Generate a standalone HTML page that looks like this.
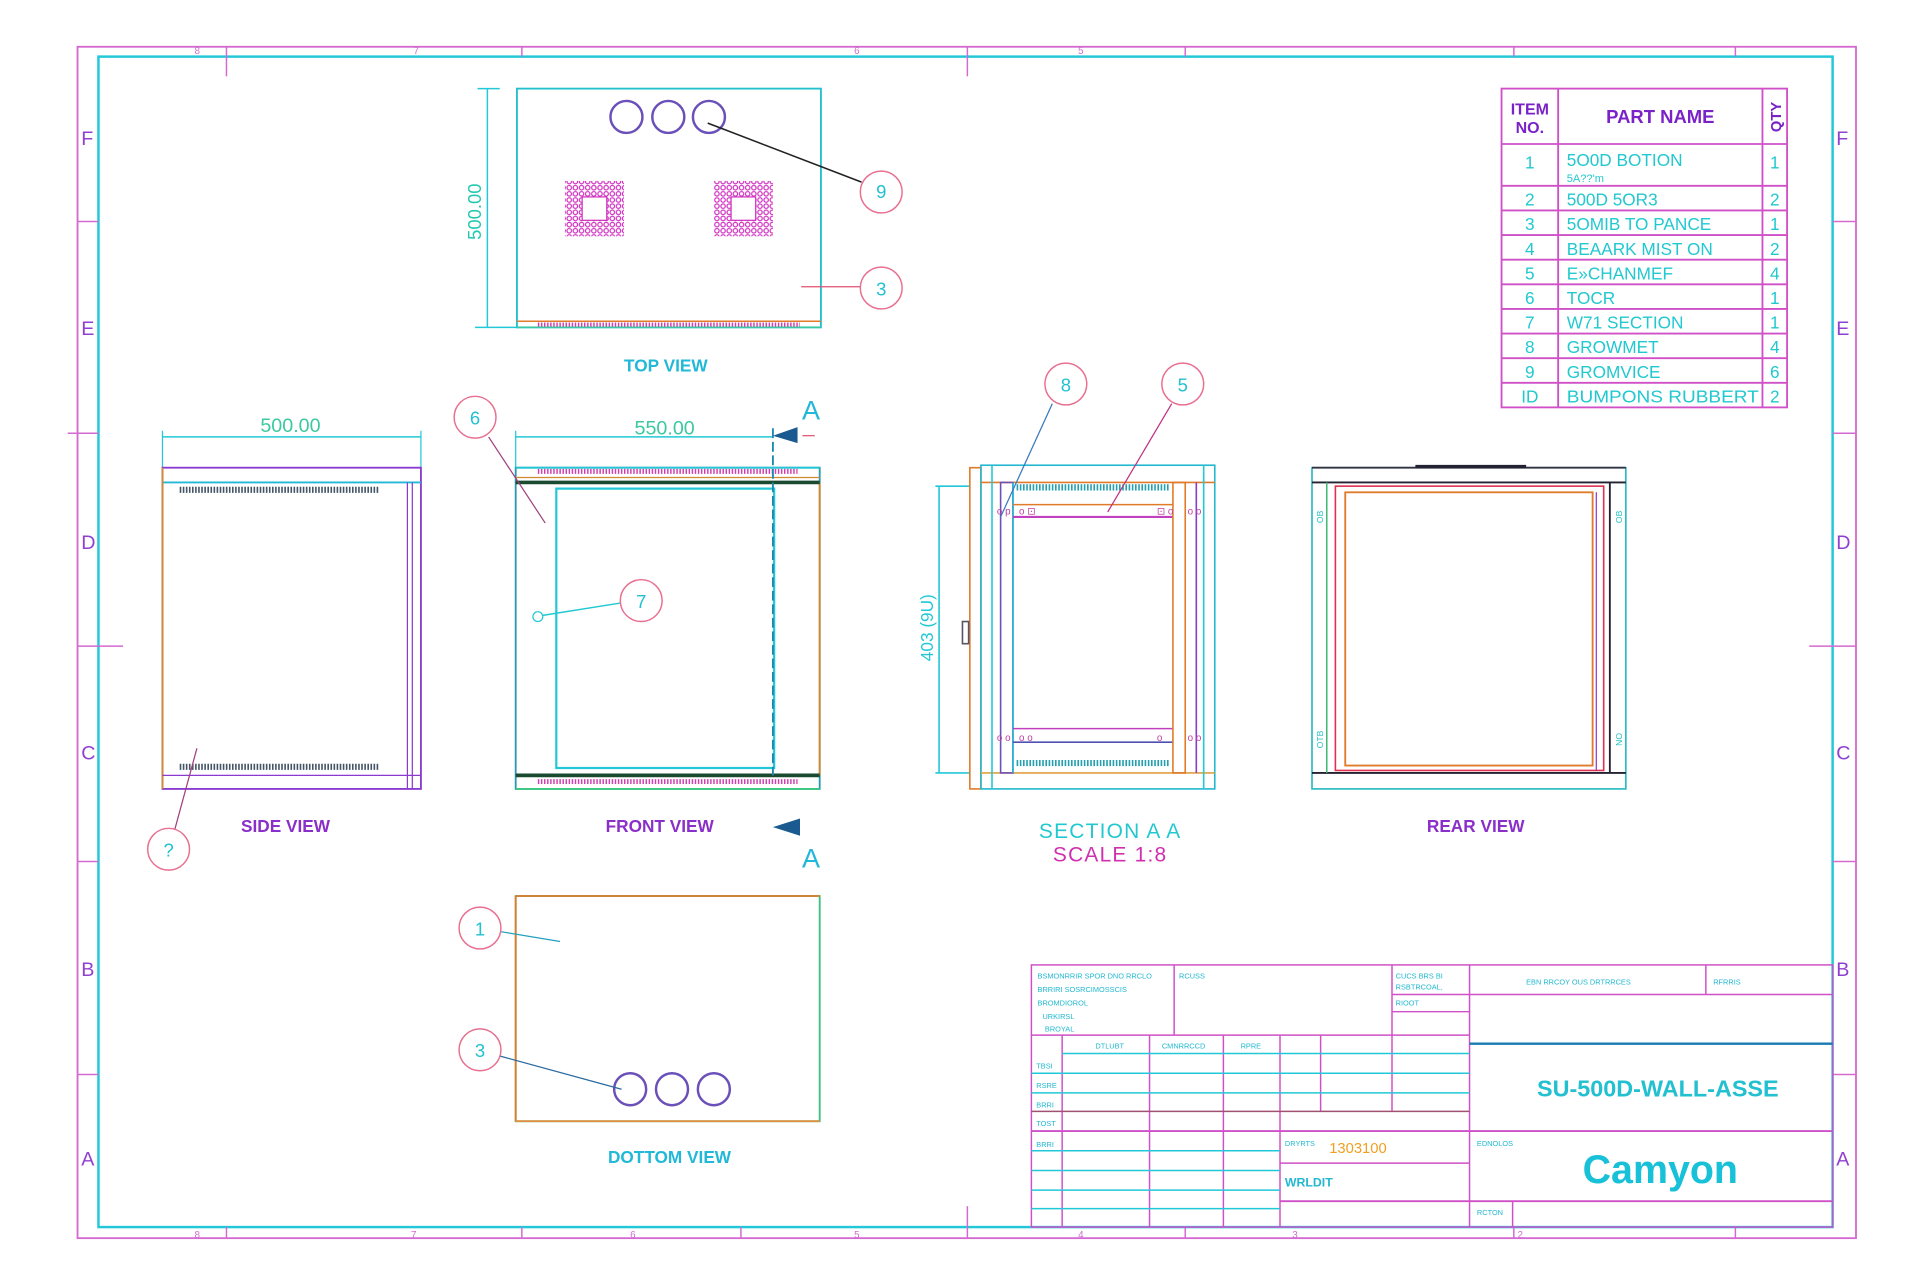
<!DOCTYPE html>
<html><head><meta charset="utf-8"><style>
html,body{margin:0;padding:0;background:#fff;}
svg{display:block;}
text{font-family:"Liberation Sans",sans-serif;}
</style></head><body>
<svg width="1920" height="1280" viewBox="0 0 1560 1040" xmlns="http://www.w3.org/2000/svg">
<defs>
<pattern id="dots" width="5" height="5" patternUnits="userSpaceOnUse"><circle cx="2.5" cy="2.5" r="1.8" fill="none" stroke="#d030c0" stroke-width="1"/></pattern>
</defs>
<rect width="1560" height="1040" fill="#fff"/>
<!-- borders -->
<rect x="63" y="38" width="1445" height="968" fill="none" stroke="#d46ad0" stroke-width="1.5"/>
<rect x="80" y="46" width="1409" height="951" fill="none" stroke="#22c8d8" stroke-width="2"/>
<g stroke="#d46ad0" stroke-width="1.2">
<line x1="184" y1="38" x2="184" y2="62"/><line x1="424" y1="38" x2="424" y2="46"/><line x1="786" y1="38" x2="786" y2="62"/><line x1="963" y1="38" x2="963" y2="46"/><line x1="1410" y1="38" x2="1410" y2="46"/><line x1="1230" y1="38" x2="1230" y2="46"/>
<line x1="184" y1="997" x2="184" y2="1006"/><line x1="424" y1="997" x2="424" y2="1006"/><line x1="786" y1="980" x2="786" y2="1006"/><line x1="963" y1="997" x2="963" y2="1006"/><line x1="1410" y1="997" x2="1410" y2="1006"/><line x1="1230" y1="997" x2="1230" y2="1006"/><line x1="602" y1="997" x2="602" y2="1006"/>
<line x1="63" y1="180" x2="80" y2="180"/><line x1="55" y1="352" x2="80" y2="352"/><line x1="63" y1="525" x2="100" y2="525"/><line x1="63" y1="700" x2="80" y2="700"/><line x1="63" y1="873" x2="80" y2="873"/>
<line x1="1489" y1="180" x2="1508" y2="180"/><line x1="1489" y1="352" x2="1508" y2="352"/><line x1="1470" y1="525" x2="1508" y2="525"/><line x1="1489" y1="700" x2="1508" y2="700"/><line x1="1489" y1="873" x2="1508" y2="873"/>
</g>
<g fill="#9040d0" font-size="16">
<text x="66" y="118">F</text><text x="66" y="272">E</text><text x="66" y="446">D</text><text x="66" y="617">C</text><text x="66" y="793">B</text><text x="66" y="947">A</text>
<text x="1492" y="118">F</text><text x="1492" y="272">E</text><text x="1492" y="446">D</text><text x="1492" y="617">C</text><text x="1492" y="793">B</text><text x="1492" y="947">A</text>
</g>
<g fill="#d46ad0" font-size="8"><text x="158" y="44">8</text><text x="336" y="44">7</text><text x="694" y="44">6</text><text x="876" y="44">5</text><text x="158" y="1006">8</text><text x="334" y="1006">7</text><text x="512" y="1006">6</text><text x="694" y="1006">5</text><text x="876" y="1006">4</text><text x="1050" y="1006">3</text><text x="1233" y="1006">2</text></g>

<!-- parts table -->
<g stroke="#d050c8" stroke-width="1.5" fill="none">
<rect x="1220" y="72" width="232" height="259"/>
<line x1="1266" y1="72" x2="1266" y2="331"/><line x1="1432" y1="72" x2="1432" y2="331"/>
<line x1="1220" y1="117" x2="1452" y2="117"/><line x1="1220" y1="151" x2="1452" y2="151"/><line x1="1220" y1="171" x2="1452" y2="171"/><line x1="1220" y1="191" x2="1452" y2="191"/><line x1="1220" y1="211" x2="1452" y2="211"/><line x1="1220" y1="231" x2="1452" y2="231"/><line x1="1220" y1="251" x2="1452" y2="251"/><line x1="1220" y1="271" x2="1452" y2="271"/><line x1="1220" y1="291" x2="1452" y2="291"/><line x1="1220" y1="311" x2="1452" y2="311"/>
</g>
<g fill="#7a22c8" font-weight="bold">
<text x="1243" y="93" font-size="13" text-anchor="middle">ITEM</text><text x="1243" y="108" font-size="13" text-anchor="middle">NO.</text>
<text x="1349" y="100" font-size="15" text-anchor="middle">PART NAME</text>
<text transform="translate(1447,95) rotate(-90)" font-size="12" text-anchor="middle">QTY</text>
</g>
<g fill="#22c8d0" font-size="14">
<g text-anchor="middle"><text x="1243" y="137">1</text><text x="1243" y="167">2</text><text x="1243" y="187">3</text><text x="1243" y="207">4</text><text x="1243" y="227">5</text><text x="1243" y="247">6</text><text x="1243" y="267">7</text><text x="1243" y="287">8</text><text x="1243" y="307">9</text><text x="1243" y="327">ID</text>
<text x="1442" y="137">1</text><text x="1442" y="167">2</text><text x="1442" y="187">1</text><text x="1442" y="207">2</text><text x="1442" y="227">4</text><text x="1442" y="247">1</text><text x="1442" y="267">1</text><text x="1442" y="287">4</text><text x="1442" y="307">6</text><text x="1442" y="327">2</text></g>
<text x="1273" y="135">5O0D BOTION</text><text x="1273" y="148" font-size="9">5A??'m</text>
<text x="1273" y="167">500D 5OR3</text><text x="1273" y="187">5OMIB TO PANCE</text><text x="1273" y="207">BEAARK MIST ON</text><text x="1273" y="227">E»CHANMEF</text><text x="1273" y="247">TOCR</text><text x="1273" y="267">W71 SECTION</text><text x="1273" y="287">GROWMET</text><text x="1273" y="307">GROMVICE</text><text x="1273" y="327" textLength="156" lengthAdjust="spacingAndGlyphs">BUMPONS RUBBERT</text>
</g>

<!-- TOP VIEW -->
<rect x="420" y="72" width="247" height="194" fill="none" stroke="#22c0cc" stroke-width="1.5"/>
<line x1="420" y1="261" x2="667" y2="261" stroke="#e07b2a" stroke-width="1.2"/>
<line x1="437" y1="264" x2="650" y2="264" stroke="#d040b0" stroke-width="4" stroke-dasharray="1.2 1.3"/>
<line x1="420" y1="266" x2="667" y2="266" stroke="#3cc8a0" stroke-width="1.2"/>
<g fill="none" stroke="#6a50b8" stroke-width="2"><circle cx="509" cy="95" r="13"/><circle cx="543" cy="95" r="13"/><circle cx="576" cy="95" r="13"/></g>
<g>
<rect x="459" y="147" width="48" height="45" fill="url(#dots)"/><rect x="473" y="160" width="20" height="19" fill="#fff" stroke="#d030c0"/>
<rect x="580" y="147" width="48" height="45" fill="url(#dots)"/><rect x="594" y="160" width="20" height="19" fill="#fff" stroke="#d030c0"/>
</g>
<g stroke="#22c8d8" stroke-width="1.2"><line x1="396" y1="72" x2="396" y2="266"/><line x1="388" y1="72" x2="406" y2="72"/><line x1="386" y1="266" x2="420" y2="266"/></g>
<text transform="translate(391,172) rotate(-90)" fill="#22c8b0" font-size="15" text-anchor="middle">500.00</text>
<line x1="575" y1="100" x2="700" y2="148" stroke="#222" stroke-width="1.3"/>
<line x1="651" y1="233" x2="699" y2="233" stroke="#e05070" stroke-width="1"/>
<g fill="#fff" stroke="#e87090" stroke-width="1.2"><circle cx="716" cy="156" r="17"/><circle cx="716" cy="234" r="17"/></g>
<g fill="#22c0d0" font-size="15" text-anchor="middle"><text x="716" y="161">9</text><text x="716" y="240">3</text></g>
<text x="541" y="302" fill="#22b8d8" font-size="14" font-weight="bold" text-anchor="middle">TOP VIEW</text>

<!-- SIDE VIEW -->
<line x1="132" y1="355" x2="342" y2="355" stroke="#22c8d8" stroke-width="1.2"/>
<line x1="132" y1="350" x2="132" y2="380" stroke="#22c8d8"/><line x1="342" y1="350" x2="342" y2="380" stroke="#22c8d8"/>
<text x="236" y="351" fill="#3cc8a0" font-size="16" text-anchor="middle">500.00</text>
<rect x="132" y="380" width="210" height="261" fill="none" stroke="#8a3ad0" stroke-width="1.5"/>
<line x1="132" y1="392" x2="342" y2="392" stroke="#22b8d8" stroke-width="1.5"/>
<line x1="132" y1="380" x2="132" y2="641" stroke="#d08a30" stroke-width="1.5"/>
<line x1="132" y1="630" x2="342" y2="630" stroke="#8a3ad0" stroke-width="1"/>
<line x1="331" y1="392" x2="331" y2="641" stroke="#8a3ad0"/><line x1="335" y1="392" x2="335" y2="641" stroke="#8a3ad0"/>
<line x1="146" y1="398" x2="308" y2="398" stroke="#445566" stroke-width="5" stroke-dasharray="1.3 1.2"/>
<line x1="146" y1="623" x2="308" y2="623" stroke="#445566" stroke-width="5" stroke-dasharray="1.3 1.2"/>
<line x1="160" y1="608" x2="142" y2="674" stroke="#a04080" stroke-width="1"/>
<circle cx="137" cy="690" r="17" fill="#fff" stroke="#e87090" stroke-width="1.2"/><text x="137" y="696" fill="#22c0d0" font-size="15" text-anchor="middle">?</text>
<text x="232" y="676" fill="#8a2fc9" font-size="14" font-weight="bold" text-anchor="middle">SIDE VIEW</text>

<!-- FRONT VIEW -->
<line x1="419" y1="355" x2="628" y2="355" stroke="#22c8d8" stroke-width="1.2"/>
<line x1="419" y1="350" x2="419" y2="380" stroke="#22c8d8"/>
<text x="540" y="353" fill="#3cc8a0" font-size="16" text-anchor="middle">550.00</text>
<rect x="419" y="380" width="247" height="261" fill="none" stroke="#2a9ab0" stroke-width="1.5"/>
<line x1="666" y1="392" x2="666" y2="630" stroke="#d08a30" stroke-width="1.5"/>
<line x1="419" y1="380" x2="666" y2="380" stroke="#22c8d8" stroke-width="1.5"/>
<line x1="419" y1="388" x2="666" y2="388" stroke="#d08a30" stroke-width="1"/>
<line x1="437" y1="383" x2="648" y2="383" stroke="#d040b0" stroke-width="4" stroke-dasharray="1.2 1.3"/>
<line x1="419" y1="392" x2="666" y2="392" stroke="#1a4a30" stroke-width="3"/>
<line x1="419" y1="630" x2="666" y2="630" stroke="#1a4a30" stroke-width="3"/>
<line x1="437" y1="635" x2="648" y2="635" stroke="#d040b0" stroke-width="4" stroke-dasharray="1.2 1.3"/>
<line x1="419" y1="641" x2="666" y2="641" stroke="#3cc880" stroke-width="1.5"/>
<rect x="452" y="397" width="177" height="227" fill="none" stroke="#22c8d8" stroke-width="1.8"/>
<line x1="628" y1="348" x2="628" y2="630" stroke="#1a8ab0" stroke-width="1.5" stroke-dasharray="8 3"/>
<polygon points="628,354 648,347 648,360" fill="#1a5a90"/><line x1="652" y1="354" x2="662" y2="354" stroke="#e05070"/>
<polygon points="628,672 650,665 650,679" fill="#1a5a90"/>
<text x="659" y="341" fill="#22b8d8" font-size="22" text-anchor="middle">A</text>
<text x="659" y="705" fill="#22b8d8" font-size="22" text-anchor="middle">A</text>
<line x1="397" y1="355" x2="443" y2="425" stroke="#a04080" stroke-width="1"/>
<circle cx="386" cy="339" r="17" fill="#fff" stroke="#e87090" stroke-width="1.2"/><text x="386" y="345" fill="#22c0d0" font-size="15" text-anchor="middle">6</text>
<circle cx="437" cy="501" r="4" fill="none" stroke="#22c8d0"/><line x1="441" y1="500" x2="504" y2="490" stroke="#22c8d0" stroke-width="1.2"/>
<circle cx="521" cy="488" r="17" fill="#fff" stroke="#e87090" stroke-width="1.2"/><text x="521" y="494" fill="#22c0d0" font-size="15" text-anchor="middle">7</text>
<text x="536" y="676" fill="#8a2fc9" font-size="14" font-weight="bold" text-anchor="middle">FRONT VIEW</text>

<!-- SECTION A-A -->
<g fill="none" stroke-width="1.3">
<line x1="763" y1="395" x2="763" y2="628" stroke="#22c8d8"/><line x1="760" y1="395" x2="788" y2="395" stroke="#22c8d8"/><line x1="760" y1="628" x2="788" y2="628" stroke="#22c8d8"/>
<rect x="788" y="380" width="9" height="261" stroke="#e07b2a"/>
<rect x="797" y="378" width="190" height="263" stroke="#22b8d0"/>
<line x1="797" y1="392" x2="987" y2="392" stroke="#e07b2a"/>
<line x1="797" y1="628" x2="987" y2="628" stroke="#e0a040"/>
<line x1="806" y1="378" x2="806" y2="641" stroke="#22c8d8"/>
<rect x="813" y="392" width="10" height="236" stroke="#6a50b8"/>
<line x1="823" y1="392" x2="823" y2="628" stroke="#22b8d8"/>
<line x1="823" y1="410" x2="953" y2="410" stroke="#e07b2a"/><line x1="823" y1="420" x2="953" y2="420" stroke="#c040c0" stroke-width="1.8"/>
<line x1="823" y1="592" x2="953" y2="592" stroke="#c040c0"/><line x1="823" y1="603" x2="953" y2="603" stroke="#5050b0"/>
<rect x="953" y="392" width="10" height="236" stroke="#e07b2a"/>
<line x1="972" y1="392" x2="972" y2="628" stroke="#8a3ad0"/><line x1="978" y1="378" x2="978" y2="641" stroke="#22c8d8"/>
<rect x="782" y="505" width="5" height="18" stroke="#556"/>
</g>
<line x1="826" y1="396" x2="950" y2="396" stroke="#22a0b0" stroke-width="5" stroke-dasharray="1.3 1.3"/>
<line x1="826" y1="620" x2="950" y2="620" stroke="#22a0b0" stroke-width="5" stroke-dasharray="1.3 1.3"/>
<g fill="#c040a0" font-size="8"><text x="810" y="418">o p</text><text x="828" y="418">o ⊡</text><text x="940" y="418">⊡ o</text><text x="965" y="418">o o</text><text x="810" y="602">o o</text><text x="828" y="602">o o</text><text x="940" y="602">o</text><text x="965" y="602">o o</text></g>
<text transform="translate(758,510) rotate(-90)" fill="#22c8d8" font-size="14" text-anchor="middle">403 (9U)</text>
<line x1="855" y1="328" x2="813" y2="420" stroke="#3a7ac0" stroke-width="1"/>
<line x1="952" y1="328" x2="900" y2="416" stroke="#c03080" stroke-width="1"/>
<g fill="#fff" stroke="#e87090" stroke-width="1.2"><circle cx="866" cy="312" r="17"/><circle cx="961" cy="312" r="17"/></g>
<g fill="#22c0d0" font-size="15" text-anchor="middle"><text x="866" y="318">8</text><text x="961" y="318">5</text></g>
<text x="902" y="681" fill="#22c8d0" font-size="17" text-anchor="middle" letter-spacing="1">SECTION A A</text>
<text x="902" y="700" fill="#d030b0" font-size="17" text-anchor="middle" letter-spacing="1">SCALE 1:8</text>

<!-- REAR VIEW -->
<g fill="none">
<rect x="1066" y="380" width="255" height="261" stroke="#22b8c0" stroke-width="1.3"/>
<line x1="1066" y1="380" x2="1321" y2="380" stroke="#334" stroke-width="1.5"/>
<line x1="1150" y1="379" x2="1240" y2="379" stroke="#223" stroke-width="2.5"/>
<line x1="1066" y1="392" x2="1321" y2="392" stroke="#223" stroke-width="1.5"/>
<line x1="1066" y1="628" x2="1321" y2="628" stroke="#223" stroke-width="1.5"/>
<line x1="1078" y1="392" x2="1078" y2="628" stroke="#3cb870" stroke-width="1.2"/>
<line x1="1308" y1="392" x2="1308" y2="628" stroke="#223" stroke-width="1.5"/>
<rect x="1085" y="395" width="218" height="231" stroke="#e03050" stroke-width="1.3"/>
<rect x="1093" y="400" width="201" height="222" stroke="#e07b2a" stroke-width="1.5"/>
<line x1="1297" y1="400" x2="1297" y2="626" stroke="#8a3ad0"/>
</g>
<g fill="#22c0c0" font-size="7"><text transform="translate(1075,425) rotate(-90)">OB</text><text transform="translate(1075,608) rotate(-90)">OTB</text><text transform="translate(1318,425) rotate(-90)">OB</text><text transform="translate(1318,606) rotate(-90)">NO</text></g>
<text x="1199" y="676" fill="#8a2fc9" font-size="14" font-weight="bold" text-anchor="middle">REAR VIEW</text>

<!-- BOTTOM VIEW -->
<rect x="419" y="728" width="247" height="183" fill="none" stroke="#3cc080" stroke-width="1.5"/>
<line x1="419" y1="728" x2="666" y2="728" stroke="#e07b2a" stroke-width="1.5"/><line x1="419" y1="728" x2="419" y2="911" stroke="#e07b2a" stroke-width="1.5"/><line x1="419" y1="911" x2="666" y2="911" stroke="#e09040" stroke-width="1.5"/>
<g fill="none" stroke="#6a50b8" stroke-width="2"><circle cx="512" cy="885" r="13"/><circle cx="546" cy="885" r="13"/><circle cx="580" cy="885" r="13"/></g>
<line x1="407" y1="757" x2="455" y2="765" stroke="#22a0c0" stroke-width="1"/>
<line x1="406" y1="858" x2="505" y2="885" stroke="#2a6aa0" stroke-width="1"/>
<g fill="#fff" stroke="#e87090" stroke-width="1.2"><circle cx="390" cy="754" r="17"/><circle cx="390" cy="853" r="17"/></g>
<g fill="#22c0d0" font-size="15" text-anchor="middle"><text x="390" y="760">1</text><text x="390" y="859">3</text></g>
<text x="544" y="945" fill="#22b8d8" font-size="14" font-weight="bold" text-anchor="middle">DOTTOM VIEW</text>

<!-- TITLE BLOCK -->
<g fill="none" stroke-width="1.2">
<rect x="838" y="784" width="651" height="213" stroke="#d050c8"/>
<line x1="954" y1="784" x2="954" y2="841" stroke="#d050c8"/>
<line x1="1131" y1="784" x2="1131" y2="903" stroke="#d050c8"/>
<line x1="1194" y1="784" x2="1194" y2="997" stroke="#d050c8"/>
<line x1="1386" y1="784" x2="1386" y2="808" stroke="#d050c8"/>
<line x1="1131" y1="808" x2="1489" y2="808" stroke="#d050c8"/>
<line x1="1131" y1="822" x2="1194" y2="822" stroke="#d050c8"/>
<line x1="838" y1="841" x2="1194" y2="841" stroke="#d050c8"/>
<line x1="1194" y1="848" x2="1489" y2="848" stroke="#1a7ab0" stroke-width="2"/>
<line x1="863" y1="841" x2="863" y2="997" stroke="#d050c8"/>
<line x1="934" y1="841" x2="934" y2="997" stroke="#d050c8"/>
<line x1="994" y1="841" x2="994" y2="997" stroke="#d050c8"/>
<line x1="1040" y1="841" x2="1040" y2="997" stroke="#d050c8"/>
<line x1="1073" y1="841" x2="1073" y2="903" stroke="#d050c8"/>
<line x1="863" y1="856" x2="1194" y2="856" stroke="#22c8d8"/>
<line x1="838" y1="872" x2="1194" y2="872" stroke="#22c8d8"/>
<line x1="838" y1="888" x2="1194" y2="888" stroke="#22c8d8"/>
<line x1="838" y1="903" x2="1194" y2="903" stroke="#a05070"/>
<line x1="838" y1="919" x2="1489" y2="919" stroke="#d050c8" stroke-width="1.6"/>
<line x1="838" y1="935" x2="1040" y2="935" stroke="#22c8d8"/>
<line x1="1040" y1="945" x2="1194" y2="945" stroke="#d050c8"/>
<line x1="838" y1="951" x2="1040" y2="951" stroke="#22c8d8"/>
<line x1="838" y1="967" x2="1040" y2="967" stroke="#22c8d8"/>
<line x1="1040" y1="976" x2="1489" y2="976" stroke="#d050c8" stroke-width="1.5"/>
<line x1="838" y1="982" x2="1040" y2="982" stroke="#22c8d8"/>
<line x1="1229" y1="976" x2="1229" y2="997" stroke="#d050c8"/>
</g>
<g fill="#22b8d0" font-size="6">
<text x="843" y="795">BSMONRRIR SPOR DNO RRCLO</text><text x="843" y="806">BRRIRI SOSRCIMOSSCIS</text><text x="843" y="817">BROMDIOROL</text><text x="847" y="828">URKIRSL</text><text x="849" y="838">BROYAL</text>
<text x="958" y="795">RCUSS</text><text x="1134" y="795">CUCS BRS BI</text><text x="1134" y="804">RSBTRCOAL,</text><text x="1134" y="817">RIOOT</text>
<text x="1240" y="800">EBN RRCOY OUS DRTRRCES</text><text x="1392" y="800">RFRRIS</text>
<text x="890" y="852">DTLUBT</text><text x="944" y="852">CMNRRCCD</text><text x="1008" y="852">RPRE</text>
<text x="842" y="868">TBSI</text><text x="842" y="884">RSRE</text><text x="842" y="900">BRRI</text><text x="842" y="915">TOST</text><text x="842" y="932">BRRI</text>
<text x="1044" y="931">DRYRTS</text><text x="1200" y="931">EDNOLOS</text><text x="1200" y="987">RCTON</text>
</g>
<text x="1080" y="937" fill="#f0a020" font-size="12">1303100</text>
<text x="1044" y="964" fill="#22b8d0" font-size="10" font-weight="bold">WRLDIT</text>
<text x="1347" y="891" fill="#22c0d0" font-size="19" font-weight="bold" text-anchor="middle">SU-500D-WALL-ASSE</text>
<text x="1349" y="961" fill="#18c0d8" font-size="32" font-weight="bold" text-anchor="middle">Camyon</text>
</svg>
</body></html>
